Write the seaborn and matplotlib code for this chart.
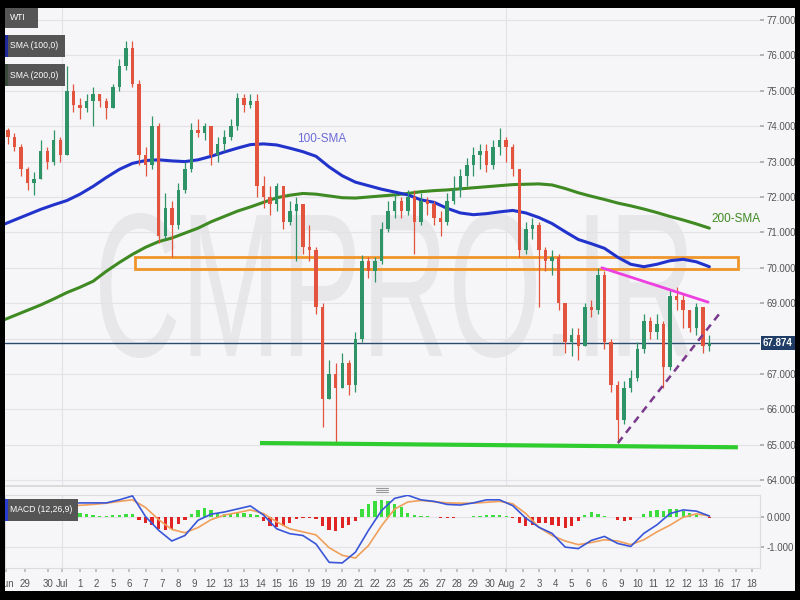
import numpy as np
import pandas as pd
import matplotlib
matplotlib.use("Agg")
import matplotlib.pyplot as plt
import matplotlib.transforms as mtransforms
from matplotlib.patches import Rectangle, PathPatch
from matplotlib.textpath import TextPath
from matplotlib.font_manager import FontProperties
from matplotlib.lines import Line2D
import seaborn as sns

# WTI 4h chart, every second bar
first_open = 73.9
closes = [73.7, 73.4, 72.8, 72.4, 72.5, 73.3, 73.0, 73.6, 73.2, 75.0,
          74.6, 74.5, 74.7, 74.9, 74.7, 74.5, 75.1, 75.7, 76.2, 75.2,
          73.2, 72.9, 74.0, 70.9, 71.7, 71.2, 72.2, 72.8, 73.9, 73.8,
          74.0, 73.2, 73.5, 73.7, 74.0, 74.8, 74.6, 74.7, 72.3, 72.0,
          71.8, 72.3, 71.3, 71.6, 71.8, 70.6, 70.5, 68.9, 66.3, 67.0,
          66.6, 67.3, 66.7, 68.0, 70.2, 69.9, 70.2, 71.1, 71.6, 71.9,
          71.6, 72.0, 71.3, 71.9, 71.8, 71.4, 71.3, 71.9, 72.2, 72.6,
          72.9, 73.2, 73.3, 72.9, 73.4, 73.6, 73.4, 72.8, 70.5, 71.1,
          71.2, 70.5, 70.2, 70.3, 69.0, 67.9, 68.1, 67.8, 68.9, 68.8,
          69.8, 67.9, 66.7, 65.7, 66.6, 66.9, 67.7, 68.5, 68.2, 68.4,
          67.2, 69.2, 69.1, 68.8, 68.3, 68.9, 67.8, 67.874]
highs = [73.95, 73.8, 73.5, 72.85, 72.7, 73.6, 73.4, 73.9, 73.7, 75.7,
         75.2, 74.8, 74.9, 75.1, 74.9, 74.8, 75.2, 75.9, 76.4, 76.4,
         75.3, 73.4, 74.3, 74.1, 72.1, 71.9, 72.4, 73.0, 74.1, 74.2,
         74.1, 74.0, 73.7, 73.9, 74.2, 74.95, 74.9, 74.9, 74.9, 72.6,
         72.3, 72.4, 72.3, 71.9, 72.0, 71.8, 71.2, 70.6, 69.0, 67.4,
         67.3, 67.6, 67.4, 68.2, 70.35, 70.3, 70.3, 71.3, 71.9, 72.1,
         72.0, 72.2, 72.2, 72.1, 72.0, 71.9, 71.6, 72.1, 72.6, 72.8,
         73.1, 73.4, 73.5, 73.5, 73.6, 73.95, 73.7, 73.5, 72.8, 71.3,
         71.4, 71.3, 70.6, 70.5, 70.4, 69.0, 68.3, 68.3, 69.0, 69.1,
         70.0, 69.9, 68.0, 66.8, 66.8, 67.1, 67.9, 68.7, 68.6, 68.7,
         68.5, 69.4, 69.45, 69.3, 68.8, 69.0, 68.9, 68.1]
lows = [73.5, 73.3, 72.6, 72.2, 72.05, 72.5, 72.8, 72.9, 73.0, 73.2,
        74.4, 74.2, 74.4, 74.0, 74.55, 74.2, 74.5, 75.0, 75.6, 75.1,
        72.9, 72.6, 72.8, 70.7, 70.8, 70.3, 71.1, 72.1, 72.7, 73.7,
        73.6, 72.9, 73.0, 73.3, 73.6, 73.9, 74.4, 74.5, 72.0, 71.7,
        71.5, 71.6, 71.1, 71.2, 70.2, 70.4, 70.2, 68.7, 65.5, 66.3,
        65.05, 66.6, 66.4, 66.5, 67.9, 69.7, 69.6, 70.1, 71.0, 71.4,
        71.4, 71.5, 70.4, 71.2, 71.5, 71.2, 70.9, 71.2, 71.8, 72.0,
        72.3, 72.6, 72.8, 72.7, 72.8, 73.2, 73.0, 72.6, 70.3, 70.4,
        70.8, 68.9, 69.9, 69.8, 68.8, 67.6, 67.5, 67.4, 67.8, 68.6,
        68.7, 67.7, 66.5, 65.05, 65.6, 66.5, 66.8, 67.6, 68.0, 68.0,
        66.6, 67.1, 68.8, 68.3, 68.2, 68.1, 67.6, 67.65]

# moving averages, one reading every fourth bar
sma100 = [71.2, 71.35, 71.5, 71.65, 71.78, 71.9, 72.08, 72.3, 72.55, 72.78,
          72.95, 73.03, 73.05, 73.02, 73.0, 73.05, 73.15, 73.27, 73.38, 73.48,
          73.5, 73.47, 73.38, 73.28, 73.15, 72.85, 72.6, 72.42, 72.32, 72.22,
          72.14, 72.06, 71.92, 71.85, 71.68, 71.55, 71.5, 71.53, 71.58, 71.62,
          71.55, 71.42, 71.25, 71.02, 70.8, 70.68, 70.55, 70.3, 70.1, 70.03,
          70.1, 70.2, 70.24, 70.17, 70.03]
sma200 = [68.5, 68.65, 68.8, 68.95, 69.12, 69.3, 69.45, 69.62, 69.9, 70.15,
          70.38, 70.58, 70.74, 70.84, 70.98, 71.12, 71.3, 71.45, 71.6, 71.72,
          71.85, 71.98, 72.05, 72.1, 72.08, 72.03, 71.98, 71.97, 72.0, 72.03,
          72.06, 72.1, 72.15, 72.18, 72.2, 72.23, 72.26, 72.29, 72.32, 72.35,
          72.36, 72.37, 72.34, 72.24, 72.12, 72.02, 71.93, 71.83, 71.75, 71.66,
          71.56, 71.45, 71.35, 71.24, 71.12]

# MACD (12,26,9)
macd_line = [0.45, 0.42, 0.35, 0.3, 0.35, 0.42, 0.45, 0.45, 0.45, 0.55,
             0.68, 0.0, -0.45, -0.8, -0.62, -0.12, 0.08, 0.15, 0.25, 0.35,
             0.05, -0.4, -0.56, -0.62, -0.9, -1.5, -1.52, -1.17, -0.45, 0.2,
             0.6, 0.7, 0.55, 0.5, 0.4, 0.38, 0.45, 0.55, 0.55, 0.36,
             -0.05, -0.35, -0.55, -1.0, -1.05, -0.78, -0.65, -0.88, -0.98, -0.55,
             -0.27, 0.1, 0.22, 0.18, 0.02]
macd_signal = [0.3, 0.33, 0.35, 0.35, 0.35, 0.36, 0.37, 0.4, 0.44, 0.5,
               0.55, 0.3, -0.1, -0.42, -0.53, -0.36, -0.1, 0.05, 0.13, 0.22,
               0.1, -0.17, -0.4, -0.5, -0.6, -1.02, -1.27, -1.36, -0.95, -0.3,
               0.25, 0.48, 0.53, 0.49, 0.45, 0.44, 0.44, 0.47, 0.5, 0.42,
               0.1, -0.35, -0.62, -0.8, -0.92, -0.85, -0.76, -0.8, -0.92, -0.76,
               -0.5, -0.28, -0.02, 0.09, 0.02]
macd_hist = [-0.12, -0.15, -0.15, -0.15, -0.08, 0.05, 0.08, 0.12, 0.14, 0.16,
             0.15, 0.12, 0.07, 0.04, 0.02, 0.02, 0.04, 0.06, 0.09, 0.1,
             -0.12, -0.2, -0.28, -0.42, -0.45, -0.4, -0.25, -0.1, 0.1, 0.22,
             0.27, 0.22, 0.12, 0.1, 0.1, 0.12, 0.12, 0.1, 0.06, -0.15,
             -0.3, -0.33, -0.3, -0.2, -0.08, -0.05, -0.04, -0.08, -0.3, -0.45,
             -0.48, -0.38, -0.28, -0.15, 0.25, 0.42, 0.52, 0.55, 0.5, 0.42,
             0.3, 0.12, 0.05, 0.02, 0.01, -0.02, -0.03, -0.03, -0.03, -0.02,
             -0.01, 0.02, 0.03, 0.04, 0.05, 0.04, 0.02, -0.06, -0.2, -0.3,
             -0.28, -0.2, -0.22, -0.28, -0.32, -0.36, -0.3, -0.15, 0.06, 0.15,
             0.1, 0.03, -0.02, -0.1, -0.16, -0.12, -0.02, 0.1, 0.2, 0.22,
             0.18, 0.25, 0.24, 0.18, 0.12, 0.06, -0.02, -0.06]

date_labels = ["Jun", "29", "30", "Jul", "1", "2", "5", "6", "7", "7", "8", "9",
               "12", "13", "13", "14", "15", "16", "19", "19", "20", "21", "22",
               "23", "25", "26", "27", "28", "29", "30", "Aug", "2", "3", "4",
               "5", "6", "6", "9", "10", "11", "12", "12", "13", "16", "17", "18"]
price_ticks = [64, 65, 66, 67, 69, 70, 71, 72, 73, 74, 75, 76, 77]
macd_ticks = [0, -1]
last_price = 67.874

# resistance zone, trend lines
zone_low, zone_high = 69.97, 70.30
support = (65.05, 64.93)
upper_trend = (70.0, 69.03)
lower_trend = (65.05, 68.72)

BG = "#f6f6f8"
GREEN_C = "#2e9468"
RED_C = "#e2543e"
BLUE = "#2233cc"
DKGREEN = "#3f8a22"

sns.set_theme(style="white")
plt.rcParams["font.family"] = ["Liberation Sans", "DejaVu Sans"]

# x axis in bar units: bar 0 sits under the "1" (Jul 1) label
bars = pd.DataFrame({"close": closes, "high": highs, "low": lows})
bars["u"] = -22 + 2 * np.arange(len(bars))
bars["open"] = [first_open] + closes[:-1]
bars["color"] = np.where(bars["close"] >= bars["open"], GREEN_C, RED_C)
sma_u = -24 + 4 * np.arange(len(sma100))
x_lo, x_hi = -22.88, 207.44

fig = plt.figure(figsize=(8, 6), dpi=100, facecolor=BG)
ax = fig.add_axes([5 / 800, 1 - 486 / 600, 755 / 800, 478 / 600], facecolor=BG)
mx = fig.add_axes([5 / 800, 1 - 568 / 600, 755 / 800, 73 / 600], facecolor=BG)


def fx(x):
    return x / 800


def fy(y):
    return 1 - y / 600


# watermark
fp = FontProperties(family="Liberation Sans")
tp = TextPath((0, 0), "CMPRO.IR", size=100, prop=fp)
ext = tp.get_extents()
tr = (mtransforms.Affine2D().translate(-ext.x0, -ext.y0)
      .scale((690 - 100) / ext.width, (358 - 213) / ext.height)
      .translate(100, 600 - 358))
wm = PathPatch(tr.transform_path(tp), facecolor="#e7e7ea", edgecolor="none",
               transform=mtransforms.IdentityTransform(), zorder=0.3)
ax.add_artist(wm)

# grid
for p in range(64, 78):
    ax.axhline(p, color="#e3e3e7", lw=0.8, zorder=0.6)
for v in (-5.5, 130):
    ax.axvline(v, color="#e3e3e7", lw=0.8, zorder=0.6)
    mx.axvline(v, color="#e3e3e7", lw=0.8, zorder=0.6)
for p in macd_ticks:
    mx.axhline(p, color="#e3e3e7", lw=0.8, zorder=0.6)

# resistance zone
ax.add_patch(Rectangle((16.8, zone_low), 200.7 - 16.8, zone_high - zone_low,
                       fill=False, edgecolor="#f0952a", lw=2, zorder=2))

# moving averages
sns.lineplot(x=sma_u, y=sma200, ax=ax, color=DKGREEN, linewidth=2.2, zorder=3)
sns.lineplot(x=sma_u, y=sma100, ax=ax, color=BLUE, linewidth=2.2, zorder=3)

# last price line
ax.axhline(last_price, color="#2c4a6e", lw=1, zorder=3.5)

# candles
ax.vlines(bars["u"], bars["low"], bars["high"], colors=bars["color"], lw=0.9, zorder=4)
body = (bars["close"] - bars["open"]).abs().clip(lower=0.03)
bottom = bars[["open", "close"]].min(axis=1)
ax.bar(bars["u"], body, bottom=bottom, width=1.05, color=bars["color"], linewidth=0, zorder=5)

# trend lines
ax.plot([54.9, 200.7], support, color="#2ecc2e", lw=3, solid_capstyle="butt", zorder=6)
ax.plot([159.2, 191.6], upper_trend, color="#ee3fe0", lw=2, zorder=6)
ax.plot([164.1, 195.2], lower_trend, color="#7a3a8c", lw=1.8, dashes=(3, 2.2), zorder=6)

ax.text(73.8, 73.64, "100-SMA", color="#6b6bd8", fontsize=8.5, ha="center", va="center", zorder=7)
ax.text(192.5, 71.38, "200-SMA", color=DKGREEN, fontsize=8.5, ha="left", va="center", zorder=7)

ax.set_xlim(x_lo, x_hi)
ax.set_ylim(63.836, 77.339)
ax.set_xticks([])
ax.yaxis.tick_right()
ax.set_yticks(price_ticks)
ax.set_yticklabels([f"{p:.3f}" for p in price_ticks])
ax.tick_params(axis="y", length=3, color="#aaaaaa", labelsize=7, labelcolor="#555555", pad=2)
ax.set_xlabel("")
ax.set_ylabel("")
for s in ax.spines.values():
    s.set_visible(False)
ax.spines["bottom"].set_visible(True)
ax.spines["bottom"].set_color("#d6d6d6")

ax.text(1.004, last_price, f"{last_price:.3f}", transform=mtransforms.blended_transform_factory(ax.transAxes, ax.transData),
        color="white", fontsize=7, fontweight="bold", ha="left", va="center", clip_on=False, zorder=20,
        bbox=dict(boxstyle="square,pad=0.25", facecolor="#1f3d66", edgecolor="none"))

# MACD panel
hist_colors = np.where(np.array(macd_hist) >= 0, "#3ddc3d", "#e02424")
mx.bar(bars["u"], macd_hist, width=1.0, color=hist_colors, linewidth=0, zorder=2)
sns.lineplot(x=sma_u, y=macd_signal, ax=mx, color="#f0a05a", linewidth=1.2, zorder=3)
sns.lineplot(x=sma_u, y=macd_line, ax=mx, color="#3a56d8", linewidth=1.2, zorder=4)
mx.set_xlim(x_lo, x_hi)
mx.set_ylim(-1.686, 0.709)
mx.yaxis.tick_right()
mx.set_yticks(macd_ticks)
mx.set_yticklabels([f"{p:.3f}" for p in macd_ticks])
tick_pos = [-22.5, -16.8, -9.8, -5.5] + [5 * m for m in range(len(date_labels) - 4)]
mx.set_xticks(tick_pos)
mx.set_xticklabels(date_labels)
mx.tick_params(axis="y", length=3, color="#aaaaaa", labelsize=7, labelcolor="#555555", pad=2)
mx.tick_params(axis="x", length=3, color="#bbbbbb", labelsize=7, labelcolor="#555555", pad=5, bottom=True)
mx.set_xlabel("")
mx.set_ylabel("")
for s in mx.spines.values():
    s.set_color("#dcdcdc")
    s.set_linewidth(0.8)

# panel drag handle
for y in (488, 490, 492):
    fig.add_artist(Line2D([fx(376), fx(388)], [fy(y), fy(y)], color="#999999", lw=0.8, transform=fig.transFigure))


def label_box(x0, y0, x1, y1, text, strip=None):
    fig.add_artist(Rectangle((fx(x0), fy(y1)), fx(x1) - fx(x0), (y1 - y0) / 600, transform=fig.transFigure,
                             facecolor="#555555", edgecolor="none", zorder=10))
    if strip:
        fig.add_artist(Rectangle((fx(x0), fy(y1)), fx(3), (y1 - y0) / 600, transform=fig.transFigure,
                                 facecolor=strip, edgecolor="none", zorder=11))
    fig.text(fx(x0 + 5), fy((y0 + y1) / 2), text, color="white", fontsize=6.2, va="center", ha="left", zorder=12)


label_box(5, 8, 38, 28, "WTI")
label_box(5, 35, 65, 57, "SMA (100,0)", strip="#1f2a9a")
label_box(5, 64, 65, 86, "SMA (200,0)", strip="#3a4a3a")
label_box(5, 499, 78, 521, "MACD (12,26,9)", strip="#2a3ccc")

# black frame
for r in [(0, 0, 800, 8), (0, 0, 5, 600), (795, 0, 800, 600), (0, 591, 800, 600)]:
    fig.add_artist(Rectangle((fx(r[0]), fy(r[3])), fx(r[2]) - fx(r[0]), (r[3] - r[1]) / 600,
                             transform=fig.transFigure, facecolor="black", edgecolor="none", zorder=50))

fig.savefig("out.png", dpi=100, facecolor=BG)
